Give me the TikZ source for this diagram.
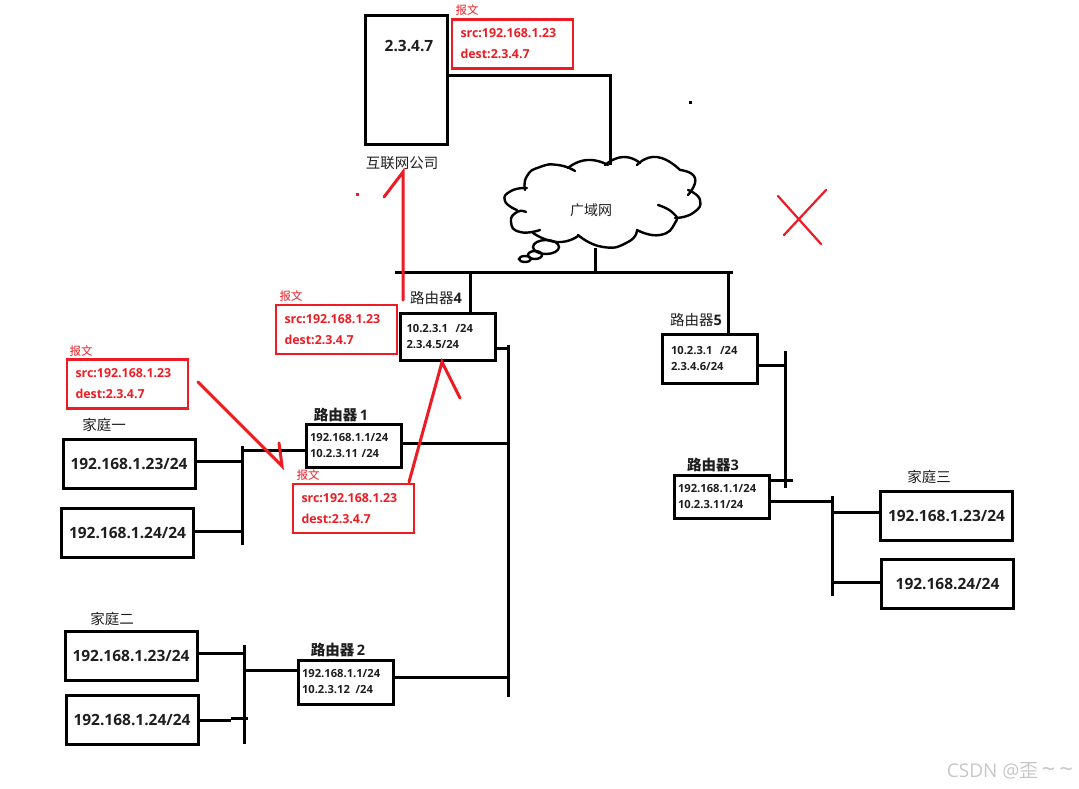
\documentclass[tikz,border=0pt]{standalone}
\usepackage{fontspec}
\setmainfont{Open Sans}
\newfontfamily\cjk{Noto Sans CJK SC}
\usetikzlibrary{positioning}
\definecolor{pktred}{RGB}{237,28,36}
\definecolor{inktext}{RGB}{30,30,30}
\newcommand{\zh}[1]{{\cjk #1}}
\tikzset{
	netstyle/.style={
		x=1pt,
		y=-1pt,
		line width=3pt,
		text=inktext}}
\begin{document}
\begin{tikzpicture}[netstyle,
	hostbox/.style={draw, line width=3pt, minimum width=132pt, minimum height=49pt, inner sep=0pt, font=\fontsize{15.5}{17}\selectfont\bfseries},
	routerbox/.style={draw, line width=3pt, text width=87pt, inner xsep=4pt, inner ysep=0pt, align=left, font=\fontsize{11.2}{16}\selectfont\bfseries},
	pktbox/.style={draw=pktred, line width=2.4pt, text=pktred, text width=104pt, inner xsep=8.5pt, inner ysep=0pt, minimum height=49pt, align=left, font=\fontsize{12.4}{21}\selectfont\bfseries},
	caption/.style={inner sep=0pt, font=\fontsize{14.5}{16}\selectfont},
	boldcaption/.style={caption, font=\fontsize{14.5}{16}\selectfont\bfseries},
	pktcaption/.style={inner sep=0pt, text=pktred, font=\fontsize{11.5}{13}\selectfont},
	cloudline/.style={line width=2.4pt, line cap=round},
	redline/.style={draw=pktred, line cap=round},
	]
	\useasboundingbox (0,0) rectangle (1079,788);

	\node[draw, line width=3pt, minimum width=82pt, minimum height=129pt, inner sep=0pt] (server) at (406.5,80) {};
	\node[inner sep=0pt, font=\fontsize{15.5}{17}\selectfont\bfseries] (serverip) at (409,46) {2.3.4.7};
	\node[caption] (company) at (402,163) {\zh{互联网公司}};

	\node[pktbox] (pkt0) at (512.5,44) {src:192.168.1.23\\dest:2.3.4.7};
	\node[pktcaption] (pkt0cap) at (467,10) {\zh{报文}};
	\node[pktbox] (pkt1) at (336.5,329.5) {src:192.168.1.23\\dest:2.3.4.7};
	\node[pktcaption] (pkt1cap) at (291,296) {\zh{报文}};
	\node[pktbox] (pkt2) at (127.5,384) {src:192.168.1.23\\dest:2.3.4.7};
	\node[pktcaption] (pkt2cap) at (81,351) {\zh{报文}};
	\node[pktbox] (pkt3) at (353.5,508.5) {src:192.168.1.23\\dest:2.3.4.7};
	\node[pktcaption] (pkt3cap) at (308,475) {\zh{报文}};

	\node[inner sep=0pt, font=\fontsize{14}{16}\selectfont] (wan) at (591,210) {\zh{广域网}};
	\draw[cloudline] plot[smooth, tension=1] coordinates {(525,190) (527,176) (540,167) (558,165) (575,171)};
	\draw[cloudline] plot[smooth, tension=1] coordinates {(568,168) (587,160) (608,165)};
	\draw[cloudline] plot[smooth, tension=1] coordinates {(605,165) (623,157) (640,163)};
	\draw[cloudline] plot[smooth, tension=1] coordinates {(637,165) (657,157) (680,170)};
	\draw[cloudline] plot[smooth, tension=1] coordinates {(680,170) (695,178) (688,195)};
	\draw[cloudline] plot[smooth, tension=1] coordinates {(688,190) (700,200) (693,213) (675,218)};
	\draw[cloudline] plot[smooth, tension=1] coordinates {(658,205) (673,213) (675,223) (660,235) (637,230)};
	\draw[cloudline] plot[smooth, tension=1] coordinates {(637,230) (628,242) (603,247) (578,235)};
	\draw[cloudline] plot[smooth, tension=1] coordinates {(578,236) (557,242) (533,233)};
	\draw[cloudline] plot[smooth, tension=1] coordinates {(540,230) (520,232) (511,222) (517,212) (526,212)};
	\draw[cloudline] plot[smooth, tension=1] coordinates {(517,210) (505,201) (511,191) (527,188)};
	\draw[cloudline] (546,247) ellipse (13 and 7);
	\draw[cloudline] (535,255) ellipse (7 and 4);
	\draw[cloudline] (525,259) ellipse (6 and 3);

	\node[routerbox, minimum height=47pt, text width=83pt, inner xsep=6pt] (rfour) at (448,336.5) {10.2.3.1\ \ /24\\2.3.4.5/24};
	\node[caption] (rfourcap) at (436,298) {\zh{路由器}\textbf{4}};
	\node[routerbox, minimum height=49pt, text width=77pt, inner xsep=9pt] (rfive) at (709.5,358.5) {10.2.3.1\ \ /24\\2.3.4.6/24};
	\node[caption] (rfivecap) at (696,320) {\zh{路由器}\textbf{5}};
	\node[routerbox, minimum height=43pt] (rone) at (353.5,445.5) {192.168.1.1/24\\10.2.3.11 /24};
	\node[boldcaption] (ronecap) at (341,415) {\zh{路由器}\,1};
	\node[routerbox, minimum height=44pt] (rtwo) at (345.5,682) {192.168.1.1/24\\10.2.3.12\ \,/24};
	\node[boldcaption] (rtwocap) at (338,650) {\zh{路由器}\,2};
	\node[routerbox, minimum height=43pt] (rthree) at (721.5,496.5) {192.168.1.1/24\\10.2.3.11/24};
	\node[boldcaption] (rthreecap) at (713,465) {\zh{路由器}3};

	\node[hostbox] (hosta) at (129,464) {192.168.1.23/24};
	\node[hostbox] (hostb) at (127.5,533) {192.168.1.24/24};
	\node[caption] (homeone) at (104,425) {\zh{家庭一}};
	\node[hostbox] (hostc) at (131,656) {192.168.1.23/24};
	\node[hostbox] (hostd) at (132,720) {192.168.1.24/24};
	\node[caption] (hometwo) at (112,619) {\zh{家庭二}};
	\node[hostbox] (hoste) at (946.5,515.5) {192.168.1.23/24};
	\node[hostbox] (hostf) at (947.5,584) {192.168.24/24};
	\node[caption] (homethree) at (929,477) {\zh{家庭三}};

	\coordinate (wanbusw) at (395,272);
	\coordinate (wanbuse) at (733,272);
	\coordinate (corebusn) at (508,345);
	\coordinate (corebuss) at (508,697);
	\coordinate (onebusn) at (242.5,446);
	\coordinate (onebuss) at (242.5,545);
	\coordinate (twobusn) at (244.5,645);
	\coordinate (twobuss) at (244.5,744);
	\coordinate (fivebusn) at (785.5,351);
	\coordinate (fivebuss) at (785.5,488);
	\coordinate (threebusn) at (832.5,496);
	\coordinate (threebuss) at (832.5,596);
	\coordinate (wanbottom) at (595,248);
	\coordinate (wantop) at (610,165);

	\draw (wanbusw) -- (wanbuse);
	\draw (corebusn) -- (corebuss);
	\draw (onebusn) -- (onebuss);
	\draw (twobusn) -- (twobuss);
	\draw (fivebusn) -- (fivebuss);
	\draw (threebusn) -- (threebuss);

	\draw ([yshift=5pt]server.east) -| (wantop);
	\draw (wanbottom) -- (wanbottom |- wanbusw);
	\draw ([xshift=22.5pt]rfour.north) -- ([xshift=22.5pt]rfour.north |- wanbusw);
	\draw ([xshift=19pt]rfive.north) -- ([xshift=19pt]rfive.north |- wanbusw);
	\draw ([yshift=-11.5pt]rfour.east) -- ([yshift=-11.5pt]rfour.east -| corebusn);
	\draw ([yshift=2.5pt]rone.east) -- ([yshift=2.5pt]rone.east -| corebusn);
	\draw ([yshift=5pt]rtwo.east) -- ([yshift=5pt]rtwo.east -| corebusn);
	\draw ([yshift=-6.5pt]rfive.east) -- ([yshift=-6.5pt]rfive.east -| fivebusn);
	\draw ([yshift=16.5pt]rthree.east) -- ([yshift=16.5pt,xshift=22pt]rthree.east);
	\draw ([yshift=-4.5pt]rthree.east) -- ([yshift=-4.5pt]rthree.east -| threebusn);
	\draw ([yshift=-4.5pt]rone.west) -- ([yshift=-4.5pt]rone.west -| onebusn);
	\draw ([yshift=12pt]rtwo.west) -- ([yshift=12pt]rtwo.west -| twobusn);
	\draw ([yshift=3pt]hosta.east) -- ([yshift=3pt]hosta.east -| onebusn);
	\draw ([yshift=2pt]hostb.east) -- ([yshift=2pt]hostb.east -| onebusn);
	\draw ([yshift=3pt]hostc.east) -- ([yshift=3pt]hostc.east -| twobusn);
	\draw ([yshift=0pt]hostd.east) -- ([xshift=31pt]hostd.east);
	\draw ([xshift=31pt,yshift=2pt]hostd.east) -- ([xshift=48pt,yshift=2pt]hostd.east);
	\draw ([yshift=3.5pt]hoste.west) -- ([yshift=3.5pt]hoste.west -| threebusn);
	\draw ([yshift=2pt]hostf.west) -- ([yshift=2pt]hostf.west -| threebusn);

	\coordinate (hopa) at (198,382);
	\coordinate (hopatip) at (282,466);
	\coordinate (hopaend) at (279,443);
	\coordinate (hopb) at (409,482);
	\coordinate (hopbtip) at (442,362);
	\coordinate (hopbend) at (460,398);
	\coordinate (hopc) at (403,300);
	\coordinate (hopctip) at (403,172);
	\coordinate (hopcend) at (384,197);
	\draw[redline] (hopa) -- (hopatip) -- (hopaend);
	\draw[redline] (hopb) -- (hopbtip) -- (hopbend);
	\draw[redline] (hopc) -- (hopctip) -- (hopcend);

	\coordinate (crossa) at (778,196);
	\coordinate (crossb) at (821,244);
	\coordinate (crossc) at (826,190);
	\coordinate (crossd) at (784,235);
	\draw[draw=pktred, line width=2.2pt, line cap=round] (crossa) -- (crossb);
	\draw[draw=pktred, line width=2.2pt, line cap=round] (crossc) -- (crossd);

	\fill[pktred] (355.5,193) rectangle (358.5,196);
	\fill[black] (689,100.5) rectangle (692,103.5);

	\node[inner sep=0pt, text=black!22, font=\fontsize{19}{21}\selectfont] (mark) at (1010,771) {CSDN @\zh{歪}\,\fontsize{24}{26}\selectfont\char`\~\,\char`\~};
\end{tikzpicture}
\end{document}
